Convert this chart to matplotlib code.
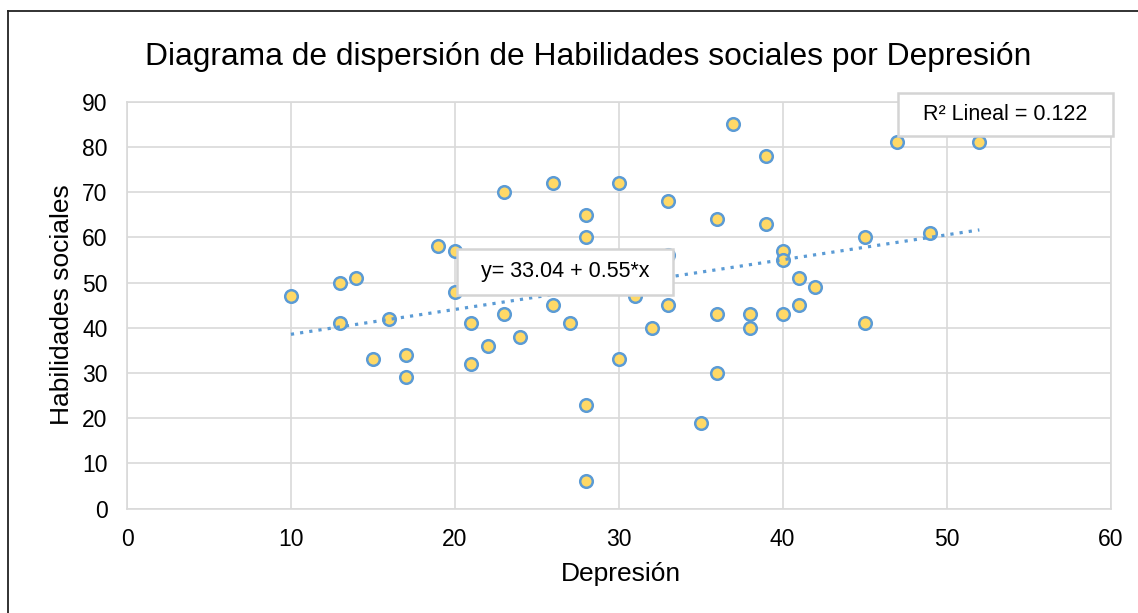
import matplotlib
matplotlib.use("Agg")
import matplotlib.pyplot as plt
from matplotlib.lines import Line2D
from matplotlib.patches import Rectangle

plt.rcParams['font.family'] = ['Liberation Sans', 'DejaVu Sans']

# data
depresion = [10, 13, 13, 14, 15, 16, 17, 17, 19, 20, 20, 21, 21, 22, 23, 23, 24,
             26, 26, 27, 28, 28, 28, 28, 30, 30, 31, 32, 33, 33, 33, 35, 36, 36,
             36, 37, 38, 38, 39, 39, 40, 40, 40, 41, 41, 42, 45, 45, 47, 49, 52]
habilidades = [47, 50, 41, 51, 33, 42, 34, 29, 58, 57, 48, 41, 32, 36, 70, 43, 38,
               72, 45, 41, 65, 60, 23, 6, 72, 33, 47, 40, 68, 56, 45, 19, 64, 43,
               30, 85, 43, 40, 78, 63, 57, 55, 43, 51, 45, 49, 60, 41, 81, 61, 81]

# fitted line as reported on the chart
intercept = 33.04
slope = 0.55
r2 = 0.122

x_ticks = [0, 10, 20, 30, 40, 50, 60]
y_ticks = [0, 10, 20, 30, 40, 50, 60, 70, 80, 90]

W, H = 1138, 613
fig = plt.figure(figsize=(W / 100, H / 100), dpi=100)
ax = fig.add_axes([127 / W, (H - 508.5) / H, (1110.5 - 127) / W, (508.5 - 101.7) / H])

grid_c = '#d9d9d9'
ax.set_xlim(0, 60)
ax.set_ylim(0, 90)
ax.set_xticks(x_ticks)
ax.set_yticks(y_ticks)
ax.grid(True, color=grid_c, linewidth=1.2, zorder=0)
ax.set_axisbelow(True)
for s in ax.spines.values():
    s.set_color(grid_c)
    s.set_linewidth(1.2)
ax.tick_params(length=0, labelsize=16.5, pad=14, colors='black')

ax.scatter(depresion, habilidades, s=82, facecolor='#FFD966', edgecolor='#5B9BD5',
           linewidths=1.8, zorder=3, clip_on=False)

# trend line over the data range
x0, x1 = min(depresion), max(depresion)
ax.plot([x0, x1], [intercept + slope * x0, intercept + slope * x1],
        color='#5B9BD5', linewidth=2.3, linestyle=(0, (1, 1.9)), zorder=4)


def label_box(x0, y0, x1, y1, text):
    # white box with light grey frame, in pixel coords from the top-left
    fig.add_artist(Rectangle((x0 / W, 1 - y1 / H), (x1 - x0) / W, (y1 - y0) / H,
                             transform=fig.transFigure, facecolor='white',
                             edgecolor='#d4d4d4', linewidth=1.8, zorder=10))
    fig.text((x0 + x1) / 2 / W, 1 - (y0 + y1) / 2 / H, text, fontsize=15.5,
             ha='center', va='center', zorder=11)


label_box(457, 249, 673, 295, f'y= {intercept:.2f} + {slope:.2f}*x')
label_box(898, 93, 1113, 136, f'R² Lineal = {r2:.3f}')

fig.text(588 / W, 1 - 57 / H, 'Diagrama de dispersión de Habilidades sociales por Depresión',
         fontsize=22.9, ha='center', va='center')
fig.text(621 / W, 1 - 574 / H, 'Depresión', fontsize=19, ha='center', va='center')
fig.text(62 / W, 1 - 305 / H, 'Habilidades sociales', fontsize=19, rotation=90,
         ha='center', va='center')

# chart area border (left and top edge visible)
fig.add_artist(Line2D([8 / W, 8 / W], [0, 1 - 11 / H], color='#222222', linewidth=1.3))
fig.add_artist(Line2D([8 / W, 1], [1 - 11 / H, 1 - 11 / H], color='#222222', linewidth=1.3))

fig.savefig('out.png', dpi=100)
